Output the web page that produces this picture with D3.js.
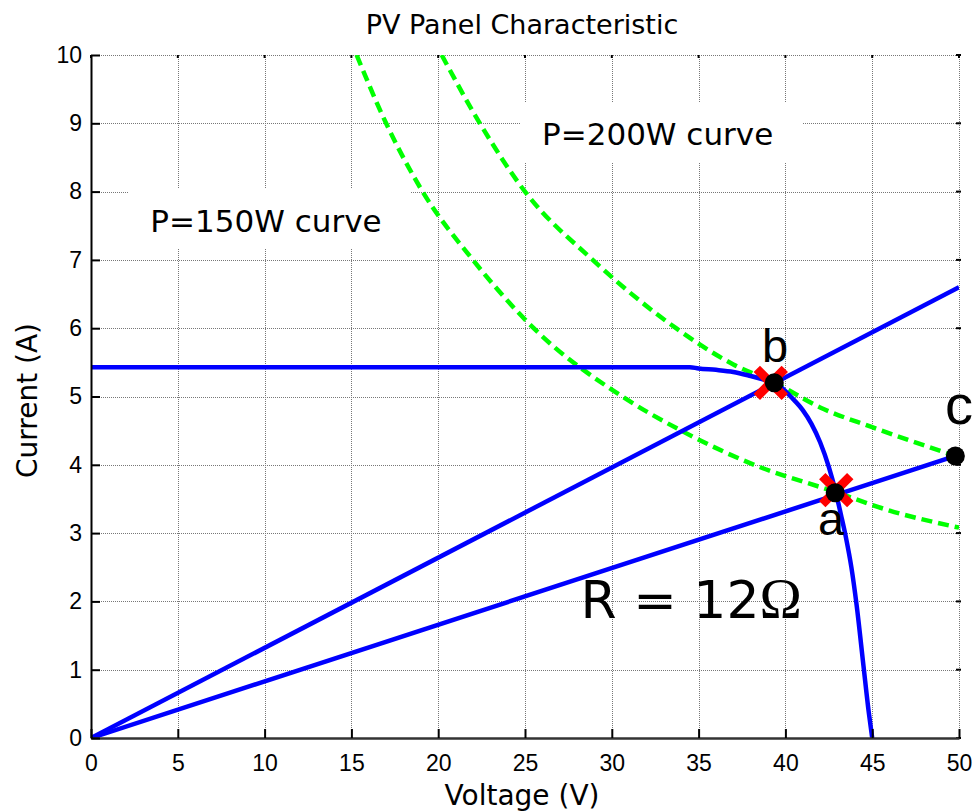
<!DOCTYPE html>
<html>
<head>
<meta charset="utf-8">
<script src="https://cdn.jsdelivr.net/npm/d3@7"></script>
<style>
  body { margin: 0; background: #fff; }
  svg { display: block; }
</style>
</head>
<body>
<div id="chart"></div>
<script>
// tick labels
var voltTicks = [0, 5, 10, 15, 20, 25, 30, 35, 40, 45, 50];
var currTicks = [0, 1, 2, 3, 4, 5, 6, 7, 8, 9, 10];

// PV panel I-V curve
var pvVoltage = [0, 34.5, 35.0, 36.0, 37.0, 38.0, 39.0, 39.4, 40.0, 40.3, 41.0, 41.5, 42.0, 42.5, 42.9, 43.2, 43.5, 43.8, 44.1, 44.5, 44.8, 45.0];
var pvCurrent = [5.43, 5.43, 5.41, 5.39, 5.36, 5.30, 5.23, 5.20, 5.08, 5.00, 4.80, 4.60, 4.33, 3.97, 3.60, 3.27, 2.92, 2.50, 1.95, 1.05, 0.38, 0];

// constant power curves
var p150Voltage = [15.3, 17.0, 19.1, 22.0, 25.5, 30.6, 34.0, 38.2, 42.9, 46.0, 50.0];
var p150Current = [10, 9, 8, 7, 6, 5, 4.5, 4.0, 3.6, 3.33, 3.08];
var p200Voltage = [20.2, 22.4, 25.0, 28.9, 33.7, 37.0, 39.4, 42.0, 45.0, 49.8];
var p200Current = [10, 9, 8, 7, 6, 5.47, 5.2, 4.84, 4.55, 4.13];

// load lines
var load1Voltage = [0, 50];
var load1Current = [0, 6.6];
var load2Voltage = [0, 49.8];
var load2Current = [0, 4.13];

// operating points
var crossVoltage = [39.16, 42.93];
var crossCurrent = [5.20, 3.63];
var dotVoltage = [39.36, 42.87, 49.79];
var dotCurrent = [5.20, 3.59, 4.13];

var W = 976, H = 812;
var plotLeft = 91, plotRight = 959, plotTop = 55, plotBottom = 738;

var svg = d3.select("#chart").append("svg")
    .attr("width", W)
    .attr("height", H);

var x = d3.scaleLinear().domain([0, 50]).range([plotLeft, plotRight]);
var y = d3.scaleLinear().domain([0, 10]).range([plotBottom, plotTop]);

function zip(vs, is) {
    return vs.map(function(v, i){ return [v, is[i]]; });
}

svg.append("defs").append("clipPath").attr("id", "plot")
    .append("rect")
    .attr("x", plotLeft).attr("y", plotTop)
    .attr("width", plotRight - plotLeft).attr("height", plotBottom - plotTop);

//grid
var grid = svg.append("g").attr("stroke", "#777").attr("stroke-width", 1).attr("stroke-dasharray", "1,1");
grid.selectAll(".vg")
    .data(voltTicks.filter(function(d){ return d > 0; }))
    .enter().append("line")
    .attr("x1", function(d){ return Math.round(x(d)) + 0.5; })
    .attr("x2", function(d){ return Math.round(x(d)) + 0.5; })
    .attr("y1", plotTop).attr("y2", plotBottom);
grid.selectAll(".hg")
    .data(currTicks.filter(function(d){ return d > 0; }))
    .enter().append("line")
    .attr("y1", function(d){ return Math.round(y(d)) + 0.5; })
    .attr("y2", function(d){ return Math.round(y(d)) + 0.5; })
    .attr("x1", plotLeft).attr("x2", plotRight);

//top and right small ticks
var edge = svg.append("g").attr("stroke", "#000").attr("stroke-width", 2);
edge.selectAll(".tt")
    .data(voltTicks)
    .enter().append("line")
    .attr("x1", function(d){ return x(d); })
    .attr("x2", function(d){ return x(d); })
    .attr("y1", plotTop).attr("y2", plotTop + 3);
edge.selectAll(".rt")
    .data(currTicks)
    .enter().append("line")
    .attr("y1", function(d){ return y(d); })
    .attr("y2", function(d){ return y(d); })
    .attr("x1", plotRight - 3).attr("x2", plotRight + 2);

//text boxes with white background
var notes = [
    {text: "P=150W curve", v: 3.42, i: 7.41},
    {text: "P=200W curve", v: 25.98, i: 8.68}
];
var noteG = svg.selectAll(".note")
    .data(notes)
    .enter().append("g")
    .attr("transform", function(d){ return "translate(" + x(d.v) + "," + y(d.i) + ")"; });
noteG.append("rect")
    .attr("x", -22).attr("y", -43)
    .attr("width", 282).attr("height", 60)
    .attr("fill", "#fff");
noteG.append("text")
    .attr("font-family", "DejaVu Sans")
    .attr("font-size", 31)
    .attr("fill", "#000")
    .text(function(d){ return d.text; });

var plot = svg.append("g").attr("clip-path", "url(#plot)");

var line = d3.line()
    .x(function(d){ return x(d[0]); })
    .y(function(d){ return y(d[1]); });

//power curves
[zip(p150Voltage, p150Current), zip(p200Voltage, p200Current)].forEach(function(pts){
    plot.append("path")
        .attr("d", line.curve(d3.curveMonotoneX)(pts))
        .attr("fill", "none")
        .attr("stroke", "#00ff00")
        .attr("stroke-width", 4.5)
        .attr("stroke-dasharray", "11,6");
});

//load lines and pv curve
[zip(load1Voltage, load1Current), zip(load2Voltage, load2Current)].forEach(function(pts){
    plot.append("path")
        .attr("d", line.curve(d3.curveLinear)(pts))
        .attr("fill", "none")
        .attr("stroke", "#0000ff")
        .attr("stroke-width", 4.5);
});
plot.append("path")
    .attr("d", line.curve(d3.curveMonotoneX)(zip(pvVoltage, pvCurrent)))
    .attr("fill", "none")
    .attr("stroke", "#0000ff")
    .attr("stroke-width", 4.5);

//axes
var xAxis = svg.append("g")
    .attr("transform", "translate(0," + plotBottom + ")")
    .call(d3.axisBottom(x).tickValues(voltTicks).tickSizeInner(-9).tickSizeOuter(0).tickPadding(17));
var yAxis = svg.append("g")
    .attr("transform", "translate(" + plotLeft + ",0)")
    .call(d3.axisLeft(y).tickValues(currTicks).tickSizeInner(-9).tickSizeOuter(0).tickPadding(9));

[xAxis, yAxis].forEach(function(g){
    g.attr("font-family", "Liberation Sans, Arial, sans-serif").attr("font-size", 23);
    g.selectAll(".tick line").attr("stroke", "#000").attr("stroke-width", 2);
    g.selectAll(".tick text").attr("fill", "#000");
});
xAxis.select(".domain").attr("stroke", "#333").attr("stroke-width", 2.5);
yAxis.select(".domain").attr("stroke", "#000").attr("stroke-width", 2);

//markers
svg.selectAll(".cross")
    .data(zip(crossVoltage, crossCurrent))
    .enter().append("path")
    .attr("transform", function(d){ return "translate(" + x(d[0]) + "," + y(d[1]) + ")"; })
    .attr("d", "M-14,-14L14,14M-14,14L14,-14")
    .attr("stroke", "#ff0000")
    .attr("stroke-width", 9)
    .attr("fill", "none");

svg.selectAll(".dot")
    .data(zip(dotVoltage, dotCurrent))
    .enter().append("circle")
    .attr("cx", function(d){ return x(d[0]); })
    .attr("cy", function(d){ return y(d[1]); })
    .attr("r", 9.5)
    .attr("fill", "#000");

//point labels
var pointLabels = [
    {text: "b", v: 38.65, i: 5.51, size: 47},
    {text: "a", v: 41.88, i: 2.97, size: 47},
    {text: "c", v: 49.2, i: 4.60, size: 56}
];
svg.selectAll(".plabel")
    .data(pointLabels)
    .enter().append("text")
    .attr("x", function(d){ return x(d.v); })
    .attr("y", function(d){ return y(d.i); })
    .attr("font-family", "Liberation Sans, Arial, sans-serif")
    .attr("font-size", function(d){ return d.size; })
    .attr("fill", "#000")
    .text(function(d){ return d.text; });

//resistance label
var rText = svg.append("text")
    .attr("x", x(28.2))
    .attr("y", y(1.75))
    .attr("font-family", "DejaVu Sans")
    .attr("font-size", 52)
    .attr("fill", "#000");
rText.append("tspan").text("R = 12");
rText.append("tspan").attr("font-family", "Liberation Serif").attr("font-size", 57).text("Ω");

//title and axis labels
svg.append("text")
    .attr("x", (plotLeft + plotRight) / 2 - 3)
    .attr("y", 34)
    .attr("text-anchor", "middle")
    .attr("font-family", "DejaVu Sans")
    .attr("font-size", 27)
    .text("PV Panel Characteristic");

svg.append("text")
    .attr("x", (plotLeft + plotRight) / 2 - 3)
    .attr("y", 805)
    .attr("text-anchor", "middle")
    .attr("font-family", "DejaVu Sans")
    .attr("font-size", 28)
    .text("Voltage (V)");

svg.append("text")
    .attr("transform", "translate(37," + ((plotTop + plotBottom) / 2 + 4) + ") rotate(-90)")
    .attr("text-anchor", "middle")
    .attr("font-family", "DejaVu Sans")
    .attr("font-size", 28)
    .text("Current (A)");
</script>
</body>
</html>
